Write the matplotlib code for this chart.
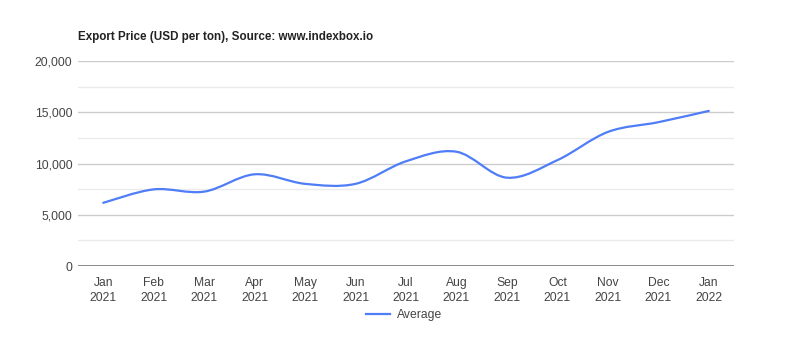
import numpy as np
import matplotlib.pyplot as plt
from matplotlib.path import Path
from matplotlib.patches import PathPatch
from matplotlib.lines import Line2D

plt.rcParams['font.family'] = ['Liberation Sans', 'DejaVu Sans']

# data
months = ['Jan\n2021', 'Feb\n2021', 'Mar\n2021', 'Apr\n2021', 'May\n2021', 'Jun\n2021',
          'Jul\n2021', 'Aug\n2021', 'Sep\n2021', 'Oct\n2021', 'Nov\n2021', 'Dec\n2021',
          'Jan\n2022']
price = [6170, 7480, 7260, 8950, 8020, 8020, 10220, 11150, 8620, 10330, 13080, 14030, 15130]
series_name = 'Average'

line_color = '#4f7df7'
text_color = '#444444'

fig = plt.figure(figsize=(8, 3.63), dpi=100)
ax = fig.add_axes([0.0975, 0.267, 0.82, 0.565])

x = np.arange(len(months))
y = np.array(price, dtype=float)

# smooth curve through the points (cubic bezier, catmull-rom style handles)
verts = [(x[0], y[0])]
codes = [Path.MOVETO]
k = 1 / 6
for i in range(len(x) - 1):
    p0 = np.array([x[max(i - 1, 0)], y[max(i - 1, 0)]])
    p1 = np.array([x[i], y[i]])
    p2 = np.array([x[i + 1], y[i + 1]])
    p3 = np.array([x[min(i + 2, len(x) - 1)], y[min(i + 2, len(x) - 1)]])
    c1 = p1 + (p2 - p0) * k
    c2 = p2 - (p3 - p1) * k
    verts += [tuple(c1), tuple(c2), tuple(p2)]
    codes += [Path.CURVE4] * 3
ax.add_patch(PathPatch(Path(verts, codes), facecolor='none', edgecolor=line_color,
                       lw=1.6, zorder=3, capstyle='round'))

ax.set_xlim(-0.5, len(months) - 0.5)
ax.set_ylim(0, 20000)

# gridlines
for v in np.arange(2500, 20001, 5000):
    ax.axhline(v, color='#ebebeb', lw=1, zorder=1)
for v in np.arange(5000, 20001, 5000):
    ax.axhline(v, color='#cccccc', lw=1, zorder=1)
ax.axhline(0, color='#777777', lw=1.2, zorder=2)

ax.set_yticks(np.arange(0, 20001, 5000))
ax.set_yticklabels(['{:,}'.format(v) for v in range(0, 20001, 5000)])
ax.set_xticks(x)
ax.set_xticklabels(months, linespacing=1.35)
ax.tick_params(axis='y', length=0, pad=4, labelsize=8.7, colors=text_color)
ax.tick_params(axis='x', length=0, pad=8, labelsize=8.7, colors=text_color)

for s in ax.spines.values():
    s.set_visible(False)

fig.text(0.0975, 0.898, 'Export Price (USD per ton), Source: www.indexbox.io',
         fontsize=8.4, fontweight='bold', color='#222222', ha='left', va='center')

handle = Line2D([], [], color=line_color, lw=1.6)
fig.legend([handle], [series_name], loc='center', bbox_to_anchor=(0.505, 0.132),
           frameon=False, fontsize=8.7, handlelength=2.0, handletextpad=0.5,
           labelcolor=text_color)

fig.savefig('out.png', dpi=100)
